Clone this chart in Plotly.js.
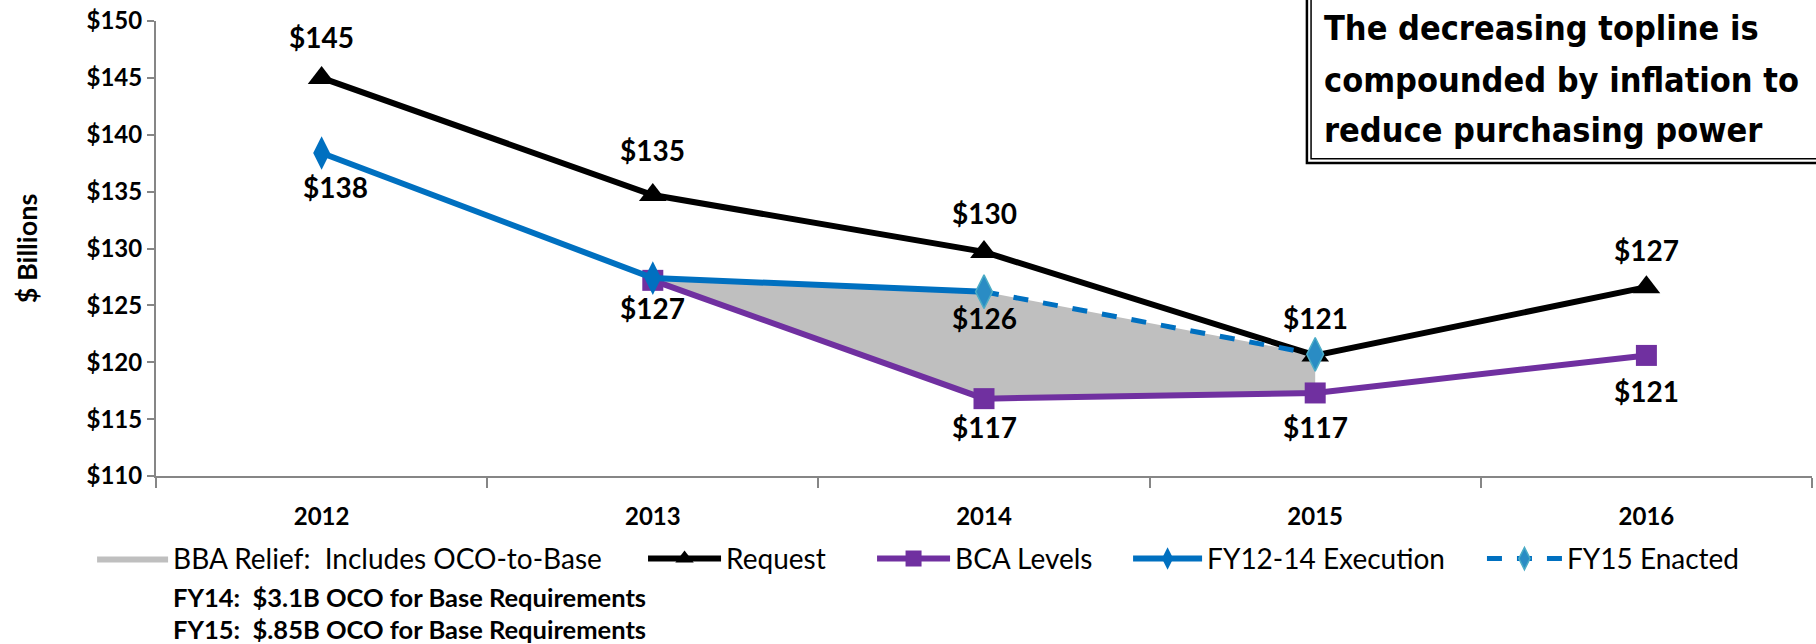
<!DOCTYPE html>
<html>
<head>
<meta charset="utf-8">
<script src="https://cdn.plot.ly/plotly-3.0.1.min.js"></script>
<style>html,body{margin:0;padding:0;background:#fff;}#chart{width:1816px;height:644px;}</style>
</head>
<body>
<div id="chart"></div>
<script>
// ---- data ----
const years = ['2012', '2013', '2014', '2015', '2016'];
const requestValues = [145.0, 134.7, 129.7, 120.6, 126.6];
const bcaYears = ['2013', '2014', '2015', '2016'];
const bcaValues = [127.2, 116.8, 117.3, 120.6];
const execYears = ['2012', '2013', '2014'];
const execValues = [138.4, 127.4, 126.2];
const enactedYears = ['2014', '2015'];
const enactedValues = [126.2, 120.7];
const reliefYears = ['2013', '2014', '2015'];
const yTicks = [110, 115, 120, 125, 130, 135, 140, 145, 150];
const legendNames = ['BBA Relief:\u00a0 Includes OCO-to-Base', 'Request', 'BCA Levels', 'FY12-14 Execution', 'FY15 Enacted'];
const noteLines = ['FY14:\u00a0 $3.1B OCO for Base Requirements', 'FY15:\u00a0 $.85B OCO for Base Requirements'];
const boxLines = ['The decreasing topline is', 'compounded by inflation to', 'reduce purchasing power'];

// relief band: lower edge = BCA, upper edge = execution / enacted
const reliefLower = reliefYears.map(y => bcaValues[bcaYears.indexOf(y)]);
const reliefUpper = reliefYears.map(y => {
  const i = execYears.indexOf(y);
  return i >= 0 ? execValues[i] : enactedValues[enactedYears.indexOf(y)];
});

const FONT = 'Lato, "Open Sans", sans-serif';
const BLACK = '#000000', PURPLE = '#7030a0', BLUE = '#0070c0';

const traces = [
  {x: reliefYears, y: reliefLower, type: 'scatter', mode: 'lines', line: {width: 0, color: '#bfbfbf'},
   showlegend: false, hoverinfo: 'skip'},
  {x: reliefYears, y: reliefUpper, type: 'scatter', mode: 'lines', fill: 'tonexty', fillcolor: '#bfbfbf',
   line: {width: 0, color: '#bfbfbf'}, name: legendNames[0], legend: 'legend'},
  {x: years, y: requestValues, type: 'scatter', mode: 'lines+markers', name: legendNames[1], legend: 'legend2',
   line: {color: BLACK, width: 6}, marker: {symbol: 'triangle-up', size: 24, color: BLACK}},
  {x: bcaYears, y: bcaValues, type: 'scatter', mode: 'lines+markers', name: legendNames[2], legend: 'legend3',
   line: {color: PURPLE, width: 6}, marker: {symbol: 'square', size: 21, color: PURPLE}},
  {x: execYears, y: execValues, type: 'scatter', mode: 'lines+markers', name: legendNames[3], legend: 'legend4',
   line: {color: BLUE, width: 6}, marker: {symbol: 'diamond-tall', size: 24, color: BLUE}},
  {x: enactedYears, y: enactedValues, type: 'scatter', mode: 'lines+markers', name: legendNames[4], legend: 'legend5',
   line: {color: BLUE, width: 5, dash: 'dash'},
   marker: {symbol: 'diamond-tall', size: 24, color: '#2a8cc4', line: {color: '#4bacc6', width: 1.5}}}
];

const annotations = [];
const LABEL_FONT = {family: FONT, size: 28, color: '#000', weight: 'bold'};
function addLabels(xs, vs, shifts, xsh) {
  xs.forEach((x, i) => {
    if (shifts[i] === null) return;
    annotations.push({x: years.indexOf(x), y: vs[i], xref: 'x', yref: 'y', text: '$' + Math.round(vs[i]),
      showarrow: false, yshift: shifts[i], xshift: xsh ? xsh[i] : 0, font: LABEL_FONT});
  });
}
addLabels(years, requestValues, [41, 45, 39, 37, 37]);
addLabels(execYears, execValues, [-34, -30, -26], [14, 0, 0]);
addLabels(bcaYears, bcaValues, [null, -28, -34, -36]);

noteLines.forEach((t, i) => {
  annotations.push({xref: 'paper', yref: 'paper', x: 0.009, y: [-0.267, -0.336][i], xanchor: 'left', yanchor: 'middle',
    text: t, showarrow: false, font: {family: FONT, size: 25.5, color: '#000', weight: 'bold'}});
});
boxLines.forEach((t, i) => {
  annotations.push({xref: 'paper', yref: 'paper', x: 0.704, y: [0.985, 0.870, 0.760][i], xanchor: 'left', yanchor: 'middle',
    text: t, showarrow: false,
    font: {family: '"DejaVu Sans Condensed", "Liberation Sans Narrow", sans-serif', size: 34, color: '#000', weight: 'bold'}});
});

const LEG_FONT = {family: FONT, size: 28, color: '#000'};
function leg(x, w) {
  return {orientation: 'h', x: x, xanchor: 'left', y: -0.182, yanchor: 'middle', font: LEG_FONT,
    itemwidth: w, bgcolor: 'rgba(0,0,0,0)', borderwidth: 0};
}

const layout = {
  width: 1816, height: 644,
  margin: {l: 156, r: 4, t: 21, b: 168},
  paper_bgcolor: '#fff', plot_bgcolor: '#fff',
  showlegend: true,
  legend: leg(-0.0386, 71),
  legend2: leg(0.2941, 73),
  legend3: leg(0.4324, 73),
  legend4: leg(0.5870, 69),
  legend5: leg(0.8007, 75),
  xaxis: {type: 'category', categoryorder: 'array', categoryarray: years, range: [-0.5, 4.5],
    showline: true, linecolor: '#868686', linewidth: 2, ticks: 'outside', tickson: 'boundaries',
    ticklen: 10, tickcolor: '#868686', tickwidth: 2, showgrid: false, zeroline: false,
    ticklabelstandoff: 18,
    tickfont: {family: FONT, size: 24, color: '#000', weight: 'bold'}, fixedrange: true},
  yaxis: {range: [110, 150], tickvals: yTicks, ticktext: yTicks.map(v => '$' + v),
    showline: true, linecolor: '#868686', linewidth: 2, ticks: 'outside', ticklen: 7, tickcolor: '#868686', tickwidth: 2,
    showgrid: false, zeroline: false,
    tickfont: {family: FONT, size: 24, color: '#000', weight: 'bold'},
    title: {text: '$ Billions', standoff: 41, font: {family: FONT, size: 27, color: '#000', weight: 'bold'}},
    fixedrange: true},
  shapes: [
    {type: 'rect', xref: 'paper', yref: 'paper', x0: 0.695, x1: 1.02, y0: 0.688, y1: 1.1,
     line: {color: '#000', width: 2.5}, fillcolor: '#fff', layer: 'above'},
    {type: 'rect', xref: 'paper', yref: 'paper', x0: 0.6975, x1: 1.02, y0: 0.697, y1: 1.1,
     line: {color: '#000', width: 1.5}, fillcolor: 'rgba(0,0,0,0)', layer: 'above'}
  ],
  annotations: annotations
};

Plotly.newPlot('chart', traces, layout, {displayModeBar: false, staticPlot: true});
</script>
</body>
</html>
